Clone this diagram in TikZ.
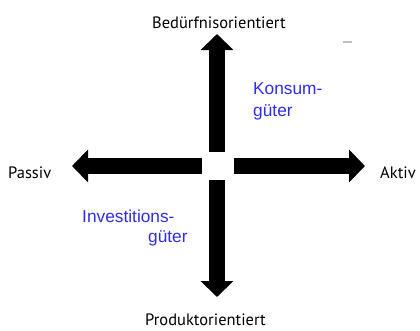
\documentclass[tikz,border=0pt]{standalone}
\usepackage{fontspec}
\setmainfont{PT Sans}
\newfontfamily\arialfont{Liberation Sans}
\usetikzlibrary{arrows.meta}
\definecolor{labelblue}{RGB}{45,45,235}
\tikzset{
  bigarrow/.style={line width=16pt, -{Triangle[length=16pt,width=32pt]}},
  axislabel/.style={anchor=base west, inner sep=0pt, font=\fontsize{16.5}{19}\selectfont},
  goodslabel/.style={anchor=base west, inner sep=0pt, text=labelblue, font=\arialfont\fontsize{17.3}{20}\selectfont},
}
\begin{document}
\begin{tikzpicture}[x=1pt,y=-1pt]
\useasboundingbox (0,0) rectangle (420,330);
% arrow ends
\coordinate (ctop) at (217,152);
\coordinate (cbot) at (217,180);
\coordinate (cleft) at (202,166);
\coordinate (cright) at (234,166);
\coordinate (ttop) at (217,34);
\coordinate (tbot) at (217,297);
\coordinate (tleft) at (72,166);
\coordinate (tright) at (365,166);
\draw[bigarrow] (ctop) -- (ttop);
\draw[bigarrow] (cbot) -- (tbot);
\draw[bigarrow] (cleft) -- (tleft);
\draw[bigarrow] (cright) -- (tright);
% labels
\node[axislabel] (top) at (152,28) {Bedürfnisorientiert};
\node[axislabel] (bottom) at (145,325) {Produktorientiert};
\node[axislabel] (left) at (8,178) {Passiv};
\node[axislabel] (right) at (380,178) {Aktiv};
\node[goodslabel] (k1) at (253,94) {Konsum-};
\node[goodslabel] (k2) at (253,116) {güter};
\node[goodslabel] (i1) at (82,222) {Investitions-};
\node[goodslabel] (i2) at (148,242) {güter};
% stray mark
\coordinate (m1) at (343,42);
\coordinate (m2) at (352,42);
\draw[gray!50, line width=1.5pt] (m1) -- (m2);
\end{tikzpicture}
\end{document}
